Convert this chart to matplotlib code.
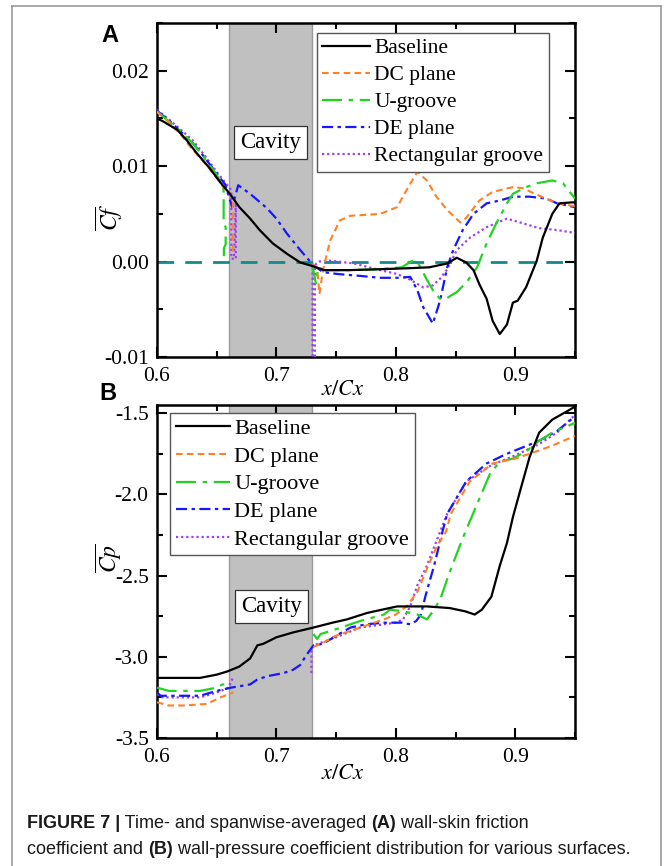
import numpy as np
import matplotlib
matplotlib.use("Agg")
import matplotlib.pyplot as plt
from matplotlib.lines import Line2D
from matplotlib.ticker import MultipleLocator
from matplotlib import font_manager

plt.rcParams["font.family"] = "Liberation Serif"
plt.rcParams["mathtext.fontset"] = "stix"
plt.rcParams["axes.unicode_minus"] = False

nan = np.nan

labels = ["Baseline", "DC plane", "U-groove", "DE plane", "Rectangular groove"]

# ---- (A) wall-skin friction coefficient ----
base_a_x = [0.600, 0.605, 0.617, 0.625, 0.633, 0.644, 0.653, 0.661, 0.669, 0.678, 0.686, 0.697,
            0.709, 0.720, 0.731, 0.740, 0.760, 0.787, 0.810, 0.828, 0.843, 0.851, 0.859, 0.865,
            0.870, 0.876, 0.881, 0.887, 0.893, 0.898, 0.902, 0.909, 0.918, 0.923, 0.931, 0.937,
            0.947, 0.950]
base_a_y = [0.0150, 0.0147, 0.0138, 0.0127, 0.0114, 0.0098, 0.0083, 0.0071, 0.0057, 0.0045, 0.0033,
            0.0019, 0.0008, -0.0001, -0.0005, -0.0009, -0.0009, -0.0008, -0.0007, -0.0006, -0.0002,
            0.0004, -0.0001, -0.0009, -0.0024, -0.0039, -0.0062, -0.0076, -0.0066, -0.0043, -0.0041,
            -0.0027, 0.0001, 0.0025, 0.0050, 0.0061, 0.0062, 0.0062]

dc_a_x = [0.600, 0.610, 0.620, 0.628, 0.640, 0.650, 0.656, 0.660, 0.6635, 0.6635, nan,
          0.730, 0.734, 0.736, 0.739, 0.745, 0.753, 0.762, 0.775, 0.787, 0.801, 0.809, 0.818,
          0.826, 0.834, 0.843, 0.854, 0.859, 0.870, 0.881, 0.898, 0.906, 0.920, 0.935, 0.950]
dc_a_y = [0.0157, 0.0146, 0.0133, 0.0120, 0.0103, 0.0088, 0.0077, 0.0072, 0.0068, 0.0008, nan,
          -0.0003, -0.0006, -0.0034, -0.0009, 0.0022, 0.0043, 0.0048, 0.0049, 0.0050, 0.0057,
          0.0075, 0.0094, 0.0085, 0.0068, 0.0054, 0.0041, 0.0046, 0.0064, 0.0073, 0.0078, 0.0077,
          0.0069, 0.0061, 0.0058]

ug_a_x = [0.600, 0.610, 0.620, 0.630, 0.640, 0.650, 0.655, 0.6558, 0.6558, 0.6575, 0.6575,
          0.6560, 0.6560, nan,
          0.730, 0.733, 0.735, 0.740, 0.760, 0.787, 0.805, 0.814, 0.818, 0.826, 0.831, 0.837,
          0.843, 0.851, 0.859, 0.868, 0.876, 0.884, 0.893, 0.898, 0.909, 0.918, 0.931, 0.940,
          0.950]
ug_a_y = [0.0157, 0.0147, 0.0136, 0.0124, 0.0108, 0.0091, 0.0079, 0.0074, 0.0040, 0.0036, 0.0018,
          0.0014, 0.0000, nan,
          -0.0003, -0.0023, -0.0006, -0.0009, -0.0009, -0.0008, -0.0006, 0.0001, 0.0000, -0.0019,
          -0.0030, -0.0039, -0.0038, -0.0032, -0.0022, -0.0006, 0.0019, 0.0040, 0.0061, 0.0071,
          0.0078, 0.0082, 0.0085, 0.0082, 0.0066]

de_a_x = [0.600, 0.610, 0.620, 0.630, 0.640, 0.650, 0.657, 0.663, 0.668, 0.678, 0.692, 0.700,
          0.709, 0.720, 0.731, 0.739, 0.751, 0.770, 0.787, 0.803, 0.812, 0.818, 0.823, 0.831,
          0.837, 0.843, 0.848, 0.856, 0.865, 0.876, 0.887, 0.898, 0.912, 0.926, 0.935, 0.950]
de_a_y = [0.0158, 0.0148, 0.0136, 0.0124, 0.0109, 0.0092, 0.0081, 0.0057, 0.0080, 0.0071, 0.0056,
          0.0045, 0.0029, 0.0012, -0.0004, -0.0011, -0.0013, -0.0015, -0.0017, -0.0017, -0.0016,
          -0.0030, -0.0048, -0.0065, -0.0041, -0.0006, 0.0012, 0.0033, 0.0050, 0.0061, 0.0064,
          0.0068, 0.0068, 0.0066, 0.0061, 0.0057]

rg_a_x = [0.600, 0.610, 0.620, 0.630, 0.640, 0.650, 0.657, 0.6622, 0.6622, 0.6645, 0.6660, 0.6660,
          nan,
          0.7285, 0.7303, 0.7303, 0.7322, 0.7322, 0.735, 0.745, 0.765, 0.787, 0.801, 0.812, 0.823,
          0.831, 0.837, 0.843, 0.851, 0.862, 0.876, 0.893, 0.904, 0.920, 0.935, 0.950]
rg_a_y = [0.0159, 0.0149, 0.0138, 0.0127, 0.0111, 0.0094, 0.0083, 0.0075, 0.0003, 0.0003, 0.0062,
          0.0003, nan,
          -0.0003, -0.0003, -0.0100, -0.0100, -0.0004, 0.0000, 0.0001, -0.0002, -0.0009, -0.0013,
          -0.0019, -0.0027, -0.0025, -0.0018, -0.0008, 0.0012, 0.0025, 0.0036, 0.0045, 0.0041,
          0.0035, 0.0033, 0.0030]

# ---- (B) wall-pressure coefficient ----
base_b_x = [0.600, 0.620, 0.636, 0.650, 0.659, 0.669, 0.678, 0.684, 0.689, 0.700, 0.714, 0.731,
            0.747, 0.759, 0.776, 0.801, 0.826, 0.845, 0.858, 0.866, 0.872, 0.880, 0.887, 0.893,
            0.898, 0.904, 0.912, 0.920, 0.931, 0.943, 0.950]
base_b_y = [-3.13, -3.13, -3.13, -3.11, -3.09, -3.06, -3.01, -2.93, -2.92, -2.88, -2.85, -2.82,
            -2.79, -2.77, -2.73, -2.69, -2.69, -2.70, -2.72, -2.74, -2.71, -2.63, -2.44, -2.30,
            -2.14, -1.98, -1.77, -1.62, -1.54, -1.49, -1.46]

dc_b_x = [0.600, 0.610, 0.622, 0.642, 0.653, 0.664, nan,
          0.731, 0.740, 0.750, 0.770, 0.790, 0.800, 0.809, 0.818, 0.827, 0.835, 0.842, 0.846,
          0.862, 0.881, 0.900, 0.920, 0.931, 0.950]
dc_b_y = [-3.28, -3.30, -3.30, -3.29, -3.25, -3.22, nan,
          -2.94, -2.91, -2.87, -2.82, -2.77, -2.74, -2.69, -2.60, -2.44, -2.31, -2.23, -2.12,
          -1.92, -1.81, -1.78, -1.73, -1.70, -1.64]

ug_b_x = [0.600, 0.610, 0.636, 0.650, 0.655, 0.657, 0.657, nan,
          0.731, 0.734, 0.737, 0.750, 0.770, 0.790, 0.795, 0.806, 0.812, 0.818, 0.826, 0.831,
          0.837, 0.845, 0.856, 0.868, 0.879, 0.887, 0.898, 0.910, 0.920, 0.931, 0.950]
ug_b_y = [-3.19, -3.21, -3.21, -3.19, -3.17, -3.17, -3.14, nan,
          -2.86, -2.89, -2.86, -2.83, -2.78, -2.74, -2.71, -2.72, -2.73, -2.74, -2.77, -2.72,
          -2.65, -2.48, -2.27, -2.06, -1.87, -1.80, -1.78, -1.73, -1.67, -1.62, -1.56]

de_b_x = [0.600, 0.603, 0.636, 0.650, 0.662, 0.678, 0.684, 0.692, 0.706, 0.714, 0.720, 0.725,
          0.731, 0.739, 0.750, 0.762, 0.775, 0.790, 0.805, 0.812, 0.817, 0.821, 0.825, 0.832,
          0.839, 0.843, 0.859, 0.876, 0.893, 0.910, 0.920, 0.935, 0.950]
de_b_y = [-3.22, -3.24, -3.24, -3.21, -3.19, -3.17, -3.14, -3.12, -3.10, -3.08, -3.05, -2.99,
          -2.93, -2.92, -2.87, -2.82, -2.80, -2.79, -2.79, -2.80, -2.78, -2.74, -2.62, -2.44,
          -2.23, -2.12, -1.92, -1.81, -1.75, -1.70, -1.67, -1.61, -1.52]

rg_b_x = [0.600, 0.605, 0.636, 0.650, 0.660, 0.664, nan,
          0.7293, 0.7293, 0.731, 0.750, 0.770, 0.790, 0.800, 0.806, 0.812, 0.818, 0.826, 0.837,
          0.843, 0.859, 0.880, 0.900, 0.920, 0.935, 0.950]
rg_b_y = [-3.23, -3.25, -3.25, -3.22, -3.19, -3.12, nan,
          -3.10, -2.95, -2.93, -2.88, -2.82, -2.80, -2.79, -2.77, -2.69, -2.56, -2.44, -2.23,
          -2.12, -1.92, -1.82, -1.76, -1.69, -1.62, -1.51]

cavity = (0.66, 0.73)

styles = [
    dict(color="black", lw=1.6, ls="-"),
    dict(color="#ff8124", lw=1.5, dashes=(3.2, 2.0)),
    dict(color="#22d322", lw=1.6, dashes=(9, 3, 2, 3)),
    dict(color="#1616ff", lw=1.6, dashes=(5, 2, 1.5, 2)),
    dict(color="#a23ef2", lw=1.6, dashes=(1.0, 1.3)),
]

fig = plt.figure(figsize=(6.64, 8.66), dpi=100)
W, H = 664.0, 866.0


def px_axes(left, top, right, bottom):
    return fig.add_axes([left / W, 1 - bottom / H, (right - left) / W, (bottom - top) / H])


ax_a = px_axes(157, 23, 575, 357)
ax_b = px_axes(157, 405, 575, 738)

series_a = [(base_a_x, base_a_y), (dc_a_x, dc_a_y), (ug_a_x, ug_a_y), (de_a_x, de_a_y), (rg_a_x, rg_a_y)]
series_b = [(base_b_x, base_b_y), (dc_b_x, dc_b_y), (ug_b_x, ug_b_y), (de_b_x, de_b_y), (rg_b_x, rg_b_y)]

for ax, series in [(ax_a, series_a), (ax_b, series_b)]:
    ax.axvspan(cavity[0], cavity[1], facecolor="#c0c0c0", edgecolor="#9a9a9a", lw=1.0, zorder=0)
    # draw in reverse so baseline sits on top
    for i in range(len(series) - 1, -1, -1):
        x, y = series[i]
        ax.plot(x, y, label=labels[i], zorder=3 + (5 - i) * 0.1, **styles[i])
    ax.set_xlim(0.6, 0.95)
    ax.xaxis.set_major_locator(MultipleLocator(0.1))
    ax.xaxis.set_minor_locator(MultipleLocator(0.05))
    ax.tick_params(which="both", direction="in", top=True, right=True, labelsize=15.5, width=1.5)
    ax.tick_params(which="major", length=7)
    ax.tick_params(which="minor", length=4)
    ax.tick_params(axis="x", pad=7)
    ax.tick_params(axis="y", pad=6)
    for sp in ax.spines.values():
        sp.set_linewidth(1.8)
    ax.set_xticks([0.6, 0.7, 0.8, 0.9])
    ax.set_xticklabels(["0.6", "0.7", "0.8", "0.9"])

ax_a.axhline(0.0, color="#13898a", lw=2.0, dashes=(6, 4), zorder=2)
ax_a.set_ylim(-0.01, 0.025)
ax_a.set_yticks([-0.01, 0.0, 0.01, 0.02])
ax_a.set_yticklabels(["-0.01", "0.00", "0.01", "0.02"])
ax_a.yaxis.set_minor_locator(MultipleLocator(0.005))

ax_b.set_ylim(-3.5, -1.45)
ax_b.set_yticks([-3.5, -3.0, -2.5, -2.0, -1.5])
ax_b.set_yticklabels(["-3.5", "-3.0", "-2.5", "-2.0", "-1.5"])
ax_b.yaxis.set_minor_locator(MultipleLocator(0.25))

ax_a.set_ylabel(r"$\overline{Cf}$", fontsize=17)
ax_a.yaxis.set_label_coords(-0.077, 0.42)
ax_b.set_ylabel(r"$\overline{Cp}$", fontsize=17)
ax_b.yaxis.set_label_coords(-0.08, 0.54)

ax_a.text(0.445, -0.099, r"$x/Cx$", transform=ax_a.transAxes, ha="center", va="center", fontsize=16)
ax_b.text(0.445, -0.111, r"$x/Cx$", transform=ax_b.transAxes, ha="center", va="center", fontsize=16)

box = dict(boxstyle="square,pad=0.25", facecolor="white", edgecolor="#333333", lw=0.9)
ax_a.text(0.695, 0.0125, "Cavity", ha="center", va="center", fontsize=16.5, bbox=box, zorder=6)
ax_b.text(0.696, -2.69, "Cavity", ha="center", va="center", fontsize=16.5, bbox=box, zorder=6)

for ax, anchor, fs, hl in [(ax_a, (0.383, 0.970), 15.5, 2.2), (ax_b, (0.031, 0.976), 16.0, 2.45)]:
    h, l = ax.get_legend_handles_labels()
    order = [l.index(name) for name in labels]
    leg = ax.legend([h[k] for k in order], [l[k] for k in order], loc="upper left",
                    bbox_to_anchor=anchor, borderaxespad=0, fontsize=fs, fancybox=False,
                    edgecolor="#555555", framealpha=1, handlelength=hl, handletextpad=0.2,
                    labelspacing=0.32, borderpad=0.25)
    leg.get_frame().set_linewidth(1.0)
    leg.set_zorder(7)

fig.text(110 / W, 1 - 35 / H, "A", fontsize=17, fontweight="bold", family="Liberation Sans",
         ha="center", va="center")
fig.text(108 / W, 1 - 393 / H, "B", fontsize=17, fontweight="bold", family="Liberation Sans",
         ha="center", va="center")

# outer frame
fc = "#9a9a9a"
fig.add_artist(Line2D([12 / W, 12 / W], [0, 1 - 6 / H], color=fc, lw=1.2))
fig.add_artist(Line2D([12 / W, 661 / W], [1 - 6 / H, 1 - 6 / H], color=fc, lw=1.2))
fig.add_artist(Line2D([661 / W, 661 / W], [0, 1 - 6 / H], color=fc, lw=1.2))

# caption
try:
    font_manager.findfont("Liberation Sans Narrow", fallback_to_default=False)
    cap_family = "Liberation Sans Narrow"
    cap_size = 15.9
except Exception:
    cap_family = "Liberation Sans"
    cap_size = 13.0

caption = [
    [("FIGURE 7 |", True), (" Time- and spanwise-averaged ", False), ("(A)", True),
     (" wall-skin friction", False)],
    [("coefficient and ", False), ("(B)", True),
     (" wall-pressure coefficient distribution for various surfaces.", False)],
]
renderer = fig.canvas.get_renderer()
for row, y_px in zip(caption, [823, 849]):
    x_px = 27.0
    for txt, bold in row:
        t = fig.text(x_px / W, 1 - y_px / H, txt, fontsize=cap_size, family=cap_family,
                     fontweight="bold" if bold else "normal", color="#1a1a1a", va="center")
        bb = t.get_window_extent(renderer=renderer)
        x_px += bb.width

fig.savefig("out.png", dpi=100)
